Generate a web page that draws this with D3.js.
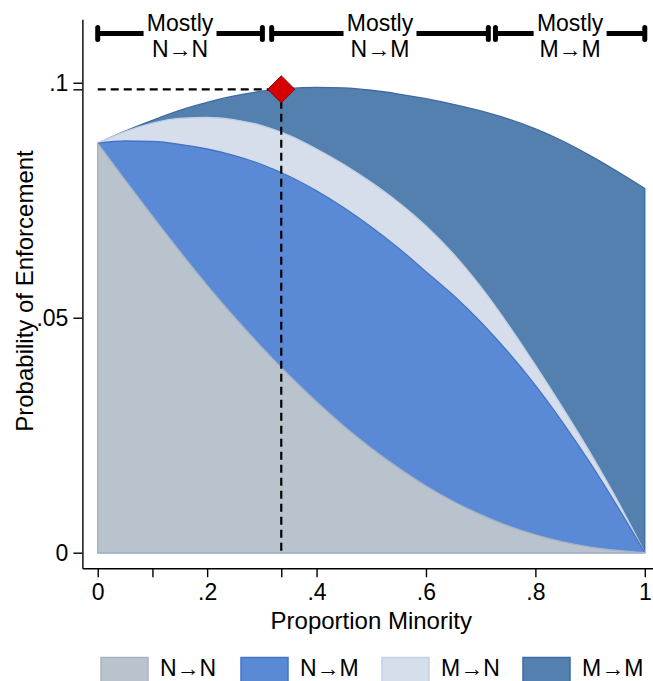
<!DOCTYPE html>
<html>
<head>
<meta charset="utf-8">
<script src="https://cdn.jsdelivr.net/npm/d3@7"></script>
<style>
  body { margin: 0; background: #fff; }
  svg text { font-family: "Liberation Sans", Arial, Helvetica, sans-serif; fill: #000; }
</style>
</head>
<body>
<svg id="chart" width="653" height="681"></svg>
<script>
// Proportion minority (x) and the four stacked transition probabilities
const share = [0, 0.05, 0.1, 0.15, 0.2, 0.25, 0.3, 0.35, 0.4, 0.45, 0.5,
               0.55, 0.6, 0.65, 0.7, 0.75, 0.8, 0.85, 0.9, 0.95, 1];
const nToN = [0.0871, 0.0793, 0.0716, 0.0641, 0.0569, 0.0501, 0.0437, 0.0377, 0.0321, 0.0269, 0.0222,
              0.0180, 0.0142, 0.0109, 0.0081, 0.0057, 0.0038, 0.0023, 0.0012, 0.0005, 0];
const nToM = [0, 0.0083, 0.0159, 0.0228, 0.0290, 0.0344, 0.0389, 0.0424, 0.0449, 0.0465, 0.0471,
              0.0468, 0.0456, 0.0439, 0.0410, 0.0370, 0.0318, 0.0254, 0.0179, 0.0093, 0];
const mToN = [0, 0.0020, 0.0039, 0.0055, 0.0067, 0.0076, 0.0083, 0.0087, 0.0089, 0.0092, 0.0095,
              0.0097, 0.0097, 0.0088, 0.0075, 0.0059, 0.0043, 0.0031, 0.0022, 0.0013, 0];
const mToM = [0, 0.0001, 0.0006, 0.0017, 0.0032, 0.0051, 0.0073, 0.0100, 0.0131, 0.0163, 0.0196,
              0.0231, 0.0271, 0.0318, 0.0374, 0.0437, 0.0503, 0.0568, 0.0632, 0.0700, 0.0775];

const seriesKeys = ['N→N', 'N→M', 'M→N', 'M→M'];
const fills   = ['#b9c3cd', '#5a8ad5', '#d6deeb', '#5480b0'];
const strokes = ['#a8b4c4', '#4474c8', '#c3cfe4', '#3f69a3'];

// peak of total enforcement, marked with the diamond
const markerX = 0.3355;
const markerY = 0.0986;

// "Mostly ..." regions along the top
const regionStart = [0, 0.318, 0.727];
const regionEnd = [0.301, 0.714, 1];
const regionLabels = ['N→N', 'N→M', 'M→M'];

const xTicks = [0, 0.1, 0.2, markerX, 0.4, 0.6, 0.8, 1];
const xTickLabels = ['0', '', '.2', '', '.4', '.6', '.8', '1'];
const yTicks = [0, 0.05, 0.1, markerY];
const yTickLabels = ['0', '.05', '.1', ''];

const svg = d3.select('#chart');

const x = d3.scaleLinear().domain([-0.028, 1.015]).range([82.4, 653]);
const y = d3.scaleLinear().domain([-0.0033, 0.1135]).range([568.2, 19.3]);

// build rows and stack them
const rows = share.map((s, i) => ({
    share: s,
    'N→N': nToN[i], 'N→M': nToM[i], 'M→N': mToN[i], 'M→M': mToM[i]
}));
const stacked = d3.stack().keys(seriesKeys)(rows);

// each layer is drawn as a full area from zero, biggest first (like overlaid areas)
const area = d3.area()
    .x(d => x(d.data.share))
    .y0(y(0))
    .y1(d => y(d[1]))
    .curve(d3.curveMonotoneX);

svg.append('g')
    .selectAll('path')
    .data(stacked.slice().reverse())
    .join('path')
    .attr('d', area)
    .attr('fill', d => fills[d.index])
    .attr('stroke', d => strokes[d.index])
    .attr('stroke-width', 1.3)
    .attr('stroke-linejoin', 'round');

// axes
const xAxis = d3.axisBottom(x)
    .tickValues(xTicks)
    .tickFormat((d, i) => xTickLabels[i])
    .tickSize(9)
    .tickSizeOuter(0)
    .tickPadding(6);
const gx = svg.append('g').attr('transform', `translate(0,${y.range()[0]})`).call(xAxis);

const yAxis = d3.axisLeft(y)
    .tickValues(yTicks)
    .tickFormat((d, i) => yTickLabels[i])
    .tickSize(9)
    .tickSizeOuter(0)
    .tickPadding(5);
const gy = svg.append('g').attr('transform', `translate(${x.range()[0]},0)`).call(yAxis);

[gx, gy].forEach(g => {
    g.selectAll('path, line').attr('stroke', '#000').attr('stroke-width', 1.4);
    g.selectAll('text').attr('font-size', 23).attr('fill', '#000');
});

// axis titles
svg.append('text')
    .attr('x', (x(0) + x(1)) / 2)
    .attr('y', 629)
    .attr('text-anchor', 'middle')
    .attr('font-size', 24)
    .text('Proportion Minority');

svg.append('text')
    .attr('transform', `translate(33,${(y(0) + y.range()[1]) / 2 + 5}) rotate(-90)`)
    .attr('text-anchor', 'middle')
    .attr('font-size', 24)
    .text('Probability of Enforcement');

// dashed guides to the marker
svg.append('path')
    .attr('d', d3.line()([[x(0), y(markerY)], [x(markerX), y(markerY)], [x(markerX), y(0)]]))
    .attr('fill', 'none')
    .attr('stroke', '#000')
    .attr('stroke-width', 2.2)
    .attr('stroke-dasharray', '8,5');

svg.append('path')
    .attr('d', d3.symbol().type(d3.symbolSquare).size(370)())
    .attr('transform', `translate(${x(markerX)},${y(markerY)}) rotate(45)`)
    .attr('fill', '#d60000')
    .attr('stroke', '#8a0000')
    .attr('stroke-width', 0.8);

// region brackets along the top
const bracketY = 33.5;
const regions = svg.append('g');
regionLabels.forEach((lab, i) => {
    const x0 = x(regionStart[i]), x1 = x(regionEnd[i]);
    const g = regions.append('g');
    g.append('line')
        .attr('x1', x0).attr('x2', x1)
        .attr('y1', bracketY).attr('y2', bracketY)
        .attr('stroke', '#000').attr('stroke-width', 5);
    [x0, x1].forEach(cx => {
        g.append('rect')
            .attr('x', cx - 2.5).attr('y', bracketY - 8.5)
            .attr('width', 5).attr('height', 17)
            .attr('rx', 2.5)
            .attr('fill', '#000');
    });
    const cx = (x0 + x1) / 2;
    const bg = g.append('rect').attr('fill', '#fff');
    const top = g.append('text')
        .attr('x', cx).attr('y', 31)
        .attr('text-anchor', 'middle')
        .attr('font-size', 23)
        .text('Mostly');
    const bottom = g.append('text')
        .attr('x', cx).attr('y', 57)
        .attr('text-anchor', 'middle')
        .attr('font-size', 23)
        .text(lab);
    const w = Math.max(top.node().getBBox().width, bottom.node().getBBox().width);
    bg.attr('x', cx - w / 2 - 3).attr('width', w + 6)
        .attr('y', bracketY - 6).attr('height', 12);
});

// legend
const legendX = [101, 241, 382, 523];
const legend = svg.append('g');
seriesKeys.forEach((k, i) => {
    legend.append('rect')
        .attr('x', legendX[i]).attr('y', 657.5)
        .attr('width', 47).attr('height', 34)
        .attr('fill', fills[i])
        .attr('stroke', strokes[i])
        .attr('stroke-width', 1.5);
    legend.append('text')
        .attr('x', legendX[i] + 59)
        .attr('y', 676)
        .attr('font-size', 23)
        .text(k);
});
</script>
</body>
</html>
